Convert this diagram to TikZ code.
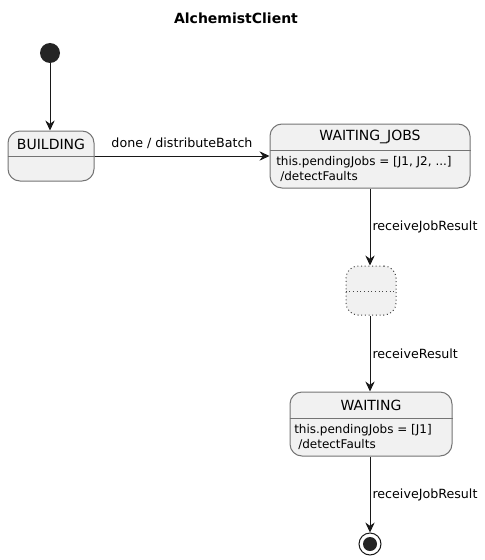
\documentclass[tikz,border=0pt]{standalone}
\usepackage{fontspec}
\setmainfont{DejaVu Sans}
\usetikzlibrary{arrows.meta}
\definecolor{stfill}{HTML}{F1F1F1}
\definecolor{stline}{HTML}{181818}
\begin{document}
\begin{tikzpicture}[x=0.75pt,y=-0.75pt,
  statebox/.style={draw=stline!60, fill=stfill, line width=0.75pt, rounded corners=9pt, inner sep=0pt},
  sttitle/.style={font=\fontsize{10.5pt}{12pt}\selectfont, inner sep=0pt, text=black},
  stbody/.style={font=\fontsize{9pt}{10.5pt}\selectfont, inner sep=0pt, anchor=west, text=black},
  lbl/.style={font=\fontsize{9.5pt}{11pt}\selectfont, inner sep=0pt, text=black},
  conn/.style={draw=stline, line width=0.75pt, -{Stealth[length=7.5pt,width=7pt,inset=2.5pt]}},
  divider/.style={draw=stline!60, line width=0.75pt}
]
\useasboundingbox (0,0) rectangle (485,560);
% title
\node[font=\bfseries\fontsize{10.5pt}{12pt}\selectfont, inner sep=0pt] (title) at (236,18) {AlchemistClient};
% start
\node[circle, fill=stline!95, minimum size={20*0.75pt}, inner sep=0pt] (start) at (50,53) {};
% BUILDING
\node[statebox, minimum width={86*0.75pt}, minimum height={50*0.75pt}] (building) at (51,156) {};
\draw[divider] (building.west |- 0,156) coordinate (bl) -- (building.east |- 0,156) coordinate (br);
\node[sttitle] (buildingt) at (51,144) {BUILDING};
% WAITING_JOBS
\node[statebox, minimum width={200*0.75pt}, minimum height={64*0.75pt}] (wj) at (370,156) {};
\draw[divider] (wj.west |- 0,150) coordinate (wjl) -- (wj.east |- 0,150) coordinate (wjr);
\node[sttitle] (wjt) at (370,137) {WAITING\_JOBS};
\node[stbody] (wjb1) at (276,162) {this.pendingJobs = [J1, J2, ...]};
\node[stbody] (wjb2) at (280,176) {/detectFaults};
% blank state
\node[statebox, draw=stline!80, dotted, minimum width={50*0.75pt}, minimum height={49*0.75pt}] (blank) at (371,290.5) {};
\draw[divider, draw=stline!80, dotted] (blank.west |- 0,291) coordinate (bkl) -- (blank.east |- 0,291) coordinate (bkr);
% WAITING
\node[statebox, minimum width={162*0.75pt}, minimum height={64*0.75pt}] (waiting) at (371,424) {};
\draw[divider] (waiting.west |- 0,418) coordinate (wl) -- (waiting.east |- 0,418) coordinate (wr);
\node[sttitle] (waitingt) at (371,405) {WAITING};
\node[stbody] (wb1) at (294,430) {this.pendingJobs = [J1]};
\node[stbody] (wb2) at (298,444) {/detectFaults};
% end
\node[circle, draw=stline, line width=0.75pt, fill=white, minimum size={22*0.75pt}, inner sep=0pt] (endst) at (370,544) {};
\node[circle, fill=stline!95, minimum size={14*0.75pt}, inner sep=0pt] (endin) at (370,544) {};
% connectors
\draw[conn] (start) -- (building.north -| start);
\draw[conn] (building) -- node[lbl, above=5pt] (l1) {done / distributeBatch} (wj);
\draw[conn] (wj.south) -- node[lbl, right=1.5pt] (l2) {receiveJobResult} (wj.south |- blank.north);
\draw[conn] (blank.south -| wj.south) -- node[lbl, right=1.5pt] (l3) {receiveResult} (waiting.north -| wj.south);
\draw[conn] (waiting.south -| wj.south) -- node[lbl, right=1.5pt] (l4) {receiveJobResult} (endst);
\end{tikzpicture}
\end{document}
